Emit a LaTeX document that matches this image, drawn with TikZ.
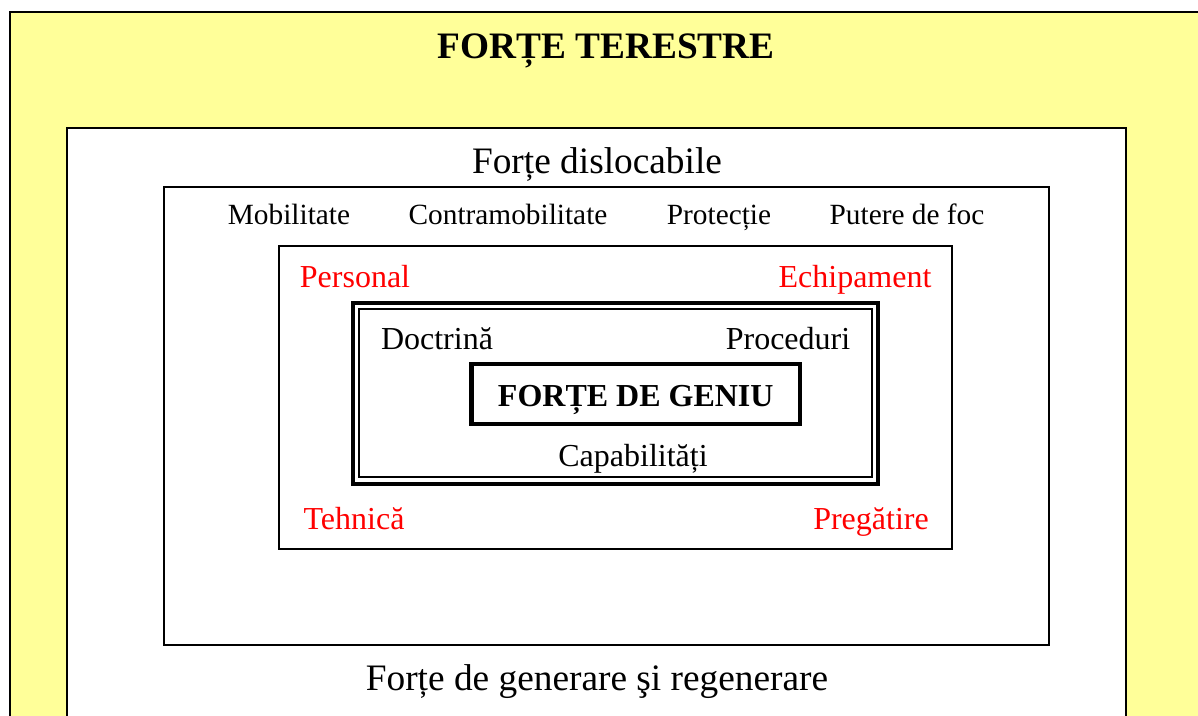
\documentclass[tikz,border=0pt]{standalone}
\usepackage{fontspec}
\setmainfont{Liberation Serif}
\usetikzlibrary{calc,positioning}
\definecolor{landyellow}{RGB}{255,255,153}
\definecolor{partred}{RGB}{255,0,0}

\begin{document}
\begin{tikzpicture}[x=0.75pt,y=-0.75pt,
  box/.style={draw=black,line width=1.3pt},
  bigtext/.style={font=\fontsize{28}{34}\selectfont,anchor=base},
  midtext/.style={font=\fontsize{24}{29}\selectfont,anchor=base},
  smalltext/.style={font=\fontsize{22}{26}\selectfont,anchor=base},
  parttext/.style={midtext,text=partred}]
% fix the frame of the page
\fill[white] (0,0) rectangle (1198,715);
\useasboundingbox (0,0) rectangle (1198,715);
\clip (0,0) rectangle (1198,715);

% define corners of the nested boxes
\coordinate (L1) at (10,12);   \coordinate (R1) at (1215,735);
\coordinate (L2) at (67,128);  \coordinate (R2) at (1126,735);
\coordinate (L3) at (164,187); \coordinate (R3) at (1049,645);
\coordinate (L4) at (279,246); \coordinate (R4) at (952,549);
\coordinate (L5) at (353,303); \coordinate (R5) at (878,484);
\coordinate (L6) at (359,309); \coordinate (R6) at (872,477);
\coordinate (L7) at (471.5,364); \coordinate (R7) at (800,424);

% draw the boxes
\draw[box,line width=1.5pt,fill=landyellow] (L1) rectangle (R1);
\draw[box,fill=white] (L2) rectangle (R2);
\draw[box] (L3) rectangle (R3);
\draw[box] (L4) rectangle (R4);
\draw[line width=2.6pt] (L5) rectangle (R5);
\draw[line width=2pt] (L6) rectangle (R6);
\draw[line width=3.4pt] (L7) rectangle (R7);

% titles
\node[bigtext,font=\fontsize{28}{34}\selectfont\bfseries] (terestre) at (606,58) {FORȚE TERESTRE};
\node[bigtext] (dislocabile) at (597,173) {Forțe dislocabile};
\node[bigtext] (generare) at (597,690) {Forțe de generare şi regenerare};

% functions
\node[smalltext] (mobilitate) at (289,224) {Mobilitate};
\node[smalltext] (contra) at (508,224) {Contramobilitate};
\node[smalltext] (protectie) at (719,224) {Protecție};
\node[smalltext] (foc) at (907,224) {Putere de foc};

% components
\node[parttext] (personal) at (355,287) {Personal};
\node[parttext] (echipament) at (855,287) {Echipament};
\node[parttext] (tehnica) at (354,529) {Tehnică};
\node[parttext] (pregatire) at (871,529) {Pregătire};

% core
\node[midtext] (doctrina) at (437,349) {Doctrină};
\node[midtext] (proceduri) at (788,349) {Proceduri};
\node[midtext,font=\fontsize{24}{29}\selectfont\bfseries] (geniu) at ($(L7)!0.5!(R7)+(0,12)$) {FORȚE DE GENIU};
\node[midtext] (capabilitati) at (633,466) {Capabilități};
\end{tikzpicture}
\end{document}
